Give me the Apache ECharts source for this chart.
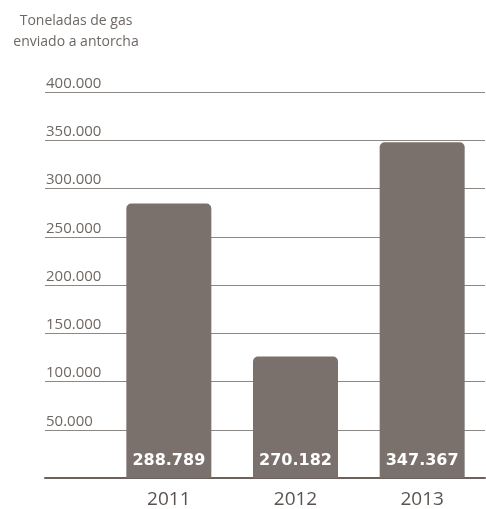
<!DOCTYPE html>
<html>
<head>
<meta charset="utf-8">
<script src="https://cdn.jsdelivr.net/npm/echarts@6/dist/echarts.min.js"></script>
<style>
html,body{margin:0;padding:0;background:#fff;}
#c{width:486px;height:509px;}
</style>
</head>
<body>
<div id="c"></div>
<script>
const categories = ['2011', '2012', '2013'];
const values = [284500, 125800, 348000];
const barLabels = ['288.789', '270.182', '347.367'];
const yTicks = [0, 50000, 100000, 150000, 200000, 250000, 300000, 350000, 400000];
const titleText = 'Toneladas de gas\nenviado a antorcha';

function fmt(v) {
  if (v === 0) return '';
  const s = String(v);
  return s.replace(/\B(?=(\d{3})+(?!\d))/g, '.');
}

const chart = echarts.init(document.getElementById('c'), null, {renderer: 'canvas'});
const yMin = yTicks[0], yMax = yTicks[yTicks.length - 1], yStep = yTicks[1] - yTicks[0];
const textColor = '#6e6763';

chart.setOption({
  animation: false,
  backgroundColor: '#ffffff',
  title: {
    text: titleText,
    left: 76,
    top: 11,
    padding: 0,
    textAlign: 'center',
    textStyle: {
      fontFamily: 'Open Sans',
      fontWeight: 400,
      fontSize: 14,
      lineHeight: 21,
      color: textColor
    }
  },
  grid: [
    {left: 105.5, right: 0.5, top: 92, bottom: 31},
    {left: 45, right: 1, top: 92, bottom: 31}
  ],
  xAxis: [
    {
      gridIndex: 0,
      type: 'category',
      data: categories,
      axisLine: {show: false},
      axisTick: {show: false},
      axisLabel: {
        margin: 12,
        fontFamily: 'Open Sans',
        fontWeight: 400,
        fontSize: 19,
        color: '#5a5350'
      }
    },
    {
      gridIndex: 1,
      type: 'value',
      min: 0,
      max: 1,
      axisLine: {show: true, lineStyle: {color: '#6b625d', width: 2}},
      axisTick: {show: false},
      axisLabel: {show: false},
      splitLine: {show: false}
    }
  ],
  yAxis: [
    {
      gridIndex: 0,
      type: 'value',
      min: yMin,
      max: yMax,
      interval: yStep,
      show: false,
      splitLine: {show: false}
    },
    {
      gridIndex: 1,
      type: 'value',
      min: yMin,
      max: yMax,
      interval: yStep,
      axisLine: {show: false},
      axisTick: {show: false},
      splitLine: {show: true, lineStyle: {color: '#8e8884', width: 1}},
      axisLabel: {
        inside: true,
        margin: 1,
        verticalAlign: 'bottom',
        padding: [0, 0, 1, 0],
        fontFamily: 'Open Sans',
        fontWeight: 400,
        fontSize: 15,
        color: textColor,
        formatter: fmt
      }
    }
  ],
  series: [
    {
      type: 'bar',
      xAxisIndex: 0,
      yAxisIndex: 0,
      data: values,
      barWidth: 85,
      itemStyle: {color: '#7b716c', borderRadius: [5, 5, 0, 0]},
      label: {
        show: true,
        position: 'insideBottom',
        distance: 9,
        color: '#ffffff',
        fontFamily: 'DejaVu Sans',
        fontWeight: 'bold',
        fontSize: 16,
        formatter: function (p) { return barLabels[p.dataIndex]; }
      }
    }
  ]
});
</script>
</body>
</html>
